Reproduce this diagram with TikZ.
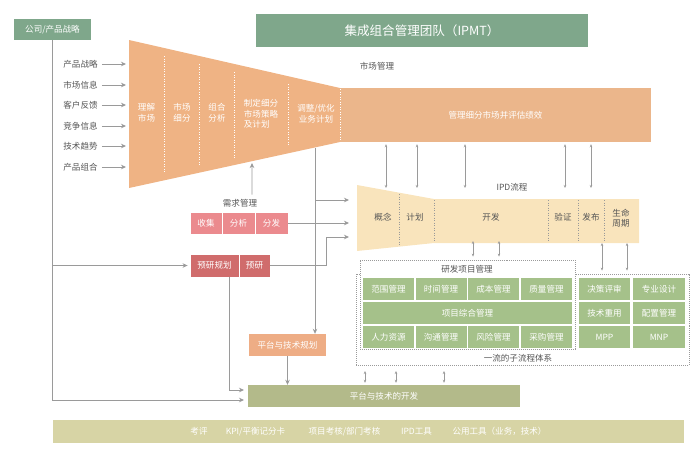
\documentclass[tikz,border=0pt]{standalone}
\usepackage{fontspec}
\setmainfont{Noto Sans CJK SC}
\usetikzlibrary{arrows.meta}

\definecolor{ipmtgreen}{HTML}{7FA78B}
\definecolor{funnelc}{HTML}{EFB384}
\definecolor{mrectc}{HTML}{EBB68B}
\definecolor{ipdc}{HTML}{F9E4BC}
\definecolor{pinkc}{HTML}{EB8A8E}
\definecolor{redc}{HTML}{D06C6C}
\definecolor{orangec}{HTML}{EEAD85}
\definecolor{olivec}{HTML}{B3BA8A}
\definecolor{khakic}{HTML}{D7D4A5}
\definecolor{cellc}{HTML}{A5C18A}
\definecolor{linec}{HTML}{9A9A9A}
\definecolor{txtc}{HTML}{555555}

\tikzset{
  every node/.style={font=\fontsize{8.5}{10.5}\selectfont, inner sep=0pt},
  box/.style 2 args={minimum width=#1*0.035cm, minimum height=#2*0.035cm},
  greenbox/.style={fill=ipmtgreen, text=white},
  graytext/.style={text=txtc},
  wtext/.style={text=white, align=center},
  pinkbox/.style={fill=pinkc, text=white, draw=white, line width=0.8pt},
  redbox/.style={fill=redc, text=white, draw=white, line width=0.8pt},
  cell/.style={fill=cellc, text=white},
  dotbox/.style={draw=linec, line width=0.8pt, dash pattern=on 1pt off 1pt},
  wdot/.style={draw=white, line width=0.7pt, dash pattern=on 1pt off 1.5pt},
  pdot/.style={draw=black!40, line width=0.7pt, dash pattern=on 1pt off 1.5pt},
  arr/.style={draw=linec, line width=0.8pt, -{Stealth[length=5pt,width=4.5pt]}},
  inarr/.style={arr, shorten <=4pt},
  darr/.style={draw=linec, line width=0.8pt,
    {Stealth[length=3pt,width=2.5pt]}-{Stealth[length=3pt,width=2.5pt]}}
}

\begin{document}
\begin{tikzpicture}[x=0.035cm, y=-0.035cm]
\useasboundingbox (0,0) rectangle (700,458);

% top boxes
\node[greenbox, box={77}{21}] (gs) at (52.5,29.5) {公司/产品战略};
\node[greenbox, box={332}{33}, font=\fontsize{12.5}{14}\selectfont] (ipmt) at (422,30.5) {集成组合管理团队（IPMT）};
\node[graytext] (scgl) at (377,66) {市场管理};

% market funnel
\fill[funnelc] (129,40) -- (340,88) -- (340,142) -- (129,188) -- cycle;
\node[fill=mrectc, box={311}{54}, text=white] (mgmt) at (495.5,115) {管理细分市场并评估绩效};
\draw[wdot] (164,56) -- (164,172);
\draw[wdot] (199,64) -- (199,165);
\draw[wdot] (234,72) -- (234,158);
\draw[wdot] (288,84) -- (288,146);
\draw[wdot] (340,89) -- (340,141);
\node[wtext] (f1) at (146.5,113) {理解\\市场};
\node[wtext] (f2) at (182,113) {市场\\细分};
\node[wtext] (f3) at (217,113) {组合\\分析};
\node[text=white, align=left] (f4) at (261,114) {制定细分\\市场策略\\及计划};
\node[wtext] (f5) at (316,113.5) {调整/优化\\业务计划};

% inputs
\coordinate (fl) at (126,0);
\node[graytext] (in1) at (80.5,64) {产品战略};
\node[graytext] (in2) at (80.5,85) {市场信息};
\node[graytext] (in3) at (80.5,105) {客户反馈};
\node[graytext] (in4) at (80.5,126) {竞争信息};
\node[graytext] (in5) at (80.5,146) {技术趋势};
\node[graytext] (in6) at (80.5,167) {产品组合};
\draw[inarr] (in1.east) -- (in1 -| fl);
\draw[inarr] (in2.east) -- (in2 -| fl);
\draw[inarr] (in3.east) -- (in3 -| fl);
\draw[inarr] (in4.east) -- (in4 -| fl);
\draw[inarr] (in5.east) -- (in5 -| fl);
\draw[inarr] (in6.east) -- (in6 -| fl);

% IPD flow
\node[graytext] (ipdt) at (512,187) {IPD流程};
\fill[ipdc] (357,185) -- (434,199) -- (639,199) -- (639,243) -- (434,243) -- (357,251) -- cycle;
\draw[pdot] (399,194) -- (399,246);
\draw[pdot] (434,200) -- (434,242);
\draw[pdot] (548,200) -- (548,242);
\draw[pdot] (578,200) -- (578,242);
\draw[pdot] (604,200) -- (604,242);
\node[graytext] (p1) at (383,217) {概念};
\node[graytext] (p2) at (415,217) {计划};
\node[graytext] (p3) at (491,217) {开发};
\node[graytext] (p4) at (563,217) {验证};
\node[graytext] (p5) at (591,217) {发布};
\node[graytext, align=center] (p6) at (621,218) {生命\\周期};

% market <-> IPD
\coordinate (t1) at (386,188);
\coordinate (t2) at (417,188);
\coordinate (t3) at (465,188);
\coordinate (t4) at (565,188);
\coordinate (t5) at (591,188);
\draw[darr, shorten <=2pt] (mgmt.south -| t1) -- (t1);
\draw[darr, shorten <=2pt] (mgmt.south -| t2) -- (t2);
\draw[darr, shorten <=2pt] (mgmt.south -| t3) -- (t3);
\draw[darr, shorten <=2pt] (mgmt.south -| t4) -- (t4);
\draw[darr, shorten <=2pt] (mgmt.south -| t5) -- (t5);

% requirements
\node[graytext] (xqgl) at (240,203) {需求管理};
\node[pinkbox, box={32}{22}] (shouji) at (206,223) {收集};
\node[pinkbox, box={33}{22}] (fenxi) at (238.5,223) {分析};
\node[pinkbox, box={33}{22}] (fenfa) at (271.5,223) {分发};
\node[redbox, box={49}{23}] (yjgh) at (214.5,265.5) {预研规划};
\node[redbox, box={31}{23}] (yy) at (254.5,265.5) {预研};

\coordinate (fnb) at (252,163);
\coordinate (fnc) at (315,148);
\coordinate (ipd1) at (349,200);
\coordinate (ipd2) at (349,223);
\coordinate (ipd3) at (349,237);
\draw[arr] ([xshift=0.42cm, yshift=0.15cm]xqgl.north) -- (fnb);
\draw[arr] (fnc |- ipd1) -- (ipd1);
\draw[arr] (fenfa.east) -- (ipd2);
\draw[arr] (yy.east) -- ++(56,0) |- (ipd3);
\draw[arr] (gs.south |- yjgh.west) -- ([xshift=-2pt]yjgh.west);

% platform
\node[fill=orangec, text=white, box={77}{22}] (ptgh) at (287.5,345) {平台与技术规划};
\node[fill=olivec, text=white, box={272}{22}] (dev) at (384,396) {平台与技术的开发};
\draw[arr] (fnc) -- (fnc |- ptgh.north);
\draw[arr] (ptgh.south) -- (ptgh.south |- dev.north);
\coordinate (dvA) at (244,390);
\coordinate (dvB) at (244,400);
\draw[arr] ([xshift=0.51cm]yjgh.south) |- (dvA);
\draw[arr] (gs.south) |- (dvB);

% sub-processes
\node[dotbox, box={333}{91}] (sub) at (522.5,319.5) {};
\node[dotbox, fill=white, box={215}{89}] (rdpm) at (467.5,304.5) {};
\node[graytext] (rdt) at (467,269) {研发项目管理};
\node[graytext] (subt) at (518,358) {一流的子流程体系};
\node[cell, box={51}{22}] (c11) at (388.5,289) {范围管理};
\node[cell, box={51}{22}] (c12) at (441,289) {时间管理};
\node[cell, box={51}{22}] (c13) at (493.5,289) {成本管理};
\node[cell, box={51}{22}] (c14) at (546.5,289) {质量管理};
\node[cell, box={209}{22}] (c2) at (467.5,313) {项目综合管理};
\node[cell, box={51}{22}] (c31) at (388.5,337) {人力资源};
\node[cell, box={51}{22}] (c32) at (441,337) {沟通管理};
\node[cell, box={51}{22}] (c33) at (493.5,337) {风险管理};
\node[cell, box={51}{22}] (c34) at (546.5,337) {采购管理};
\node[cell, box={51}{22}] (r11) at (604.5,289) {决策评审};
\node[cell, box={52}{22}] (r12) at (659,289) {专业设计};
\node[cell, box={51}{22}] (r21) at (604.5,313) {技术重用};
\node[cell, box={52}{22}] (r22) at (659,313) {配置管理};
\node[cell, box={51}{22}] (r31) at (604.5,337) {MPP};
\node[cell, box={52}{22}] (r32) at (659,337) {MNP};

% IPD <-> sub-processes
\coordinate (b1) at (473,241);
\coordinate (b2) at (499,241);
\coordinate (b3) at (602,243);
\coordinate (b4) at (627,243);
\draw[darr, shorten >=3pt] (b1) -- (b1 |- rdpm.north);
\draw[darr, shorten >=3pt] (b2) -- (b2 |- rdpm.north);
\draw[darr, shorten >=3pt] (b3) -- (b3 |- sub.north);
\draw[darr, shorten >=3pt] (b4) -- (b4 |- sub.north);

% sub-processes <-> development
\coordinate (d1) at (365,371);
\coordinate (d2) at (396,371);
\coordinate (d3) at (444,371);
\draw[darr, shorten >=2pt] (d1) -- (d1 |- dev.north);
\draw[darr, shorten >=2pt] (d2) -- (d2 |- dev.north);
\draw[darr, shorten >=2pt] (d3) -- (d3 |- dev.north);

% bottom bar
\node[fill=khakic, box={631}{23}] (bar) at (368.5,431.5) {};
\node[text=white] (k1) at (199,431.5) {考评};
\node[text=white] (k2) at (255.5,431.5) {KPI/平衡记分卡};
\node[text=white] (k3) at (344.5,431.5) {项目考核/部门考核};
\node[text=white] (k4) at (416.5,431.5) {IPD工具};
\node[text=white] (k5) at (499.5,431.5) {公用工具（业务，技术）};
\end{tikzpicture}
\end{document}
